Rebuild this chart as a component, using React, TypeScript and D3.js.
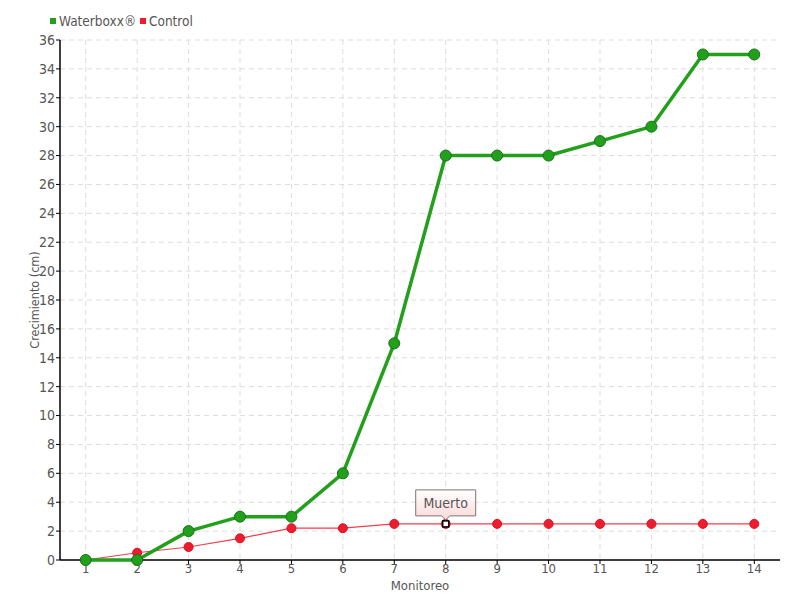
import React from "react";
import * as d3 from "d3";

const categories = ["1","2","3","4","5","6","7","8","9","10","11","12","13","14"];
const waterboxx = [0, 0, 2, 3, 3, 6, 15, 28, 28, 28, 29, 30, 35, 35];
const control = [0, 0.5, 0.9, 1.5, 2.2, 2.2, 2.5, 2.5, 2.5, 2.5, 2.5, 2.5, 2.5, 2.5];
const yTicks = d3.range(0, 37, 2);
const seriesNames = ["Waterboxx®", "Control"];
const annotationIndex = 7;
const annotationText = "Muerto";

const W = 800, H = 600;
const left = 60, right = 780, top = 40, bottom = 560;
const FONT = "'DejaVu Sans Condensed', 'DejaVu Sans', sans-serif";
const GREEN = "#22a01c";
const RED = "#ee1c2e";
const TXT = "#555";

export default function App() {
  const x = d3.scalePoint<string>().domain(categories).range([left, right]).padding(0.5);
  const y = d3.scaleLinear().domain([0, 36]).range([bottom, top]);
  const line = d3.line<number>().x((_, i) => x(categories[i])!).y(d => y(d));
  const ax = x(categories[annotationIndex])!;
  const ay = y(control[annotationIndex]);
  return (
    <svg width={W} height={H} style={{ position: "absolute", left: 0, top: 0 }} fontFamily={FONT} fontStretch="condensed">
      <defs>
        <linearGradient id="tip" x1="0" y1="0" x2="0" y2="1">
          <stop offset="0" stopColor="#ffffff" />
          <stop offset="1" stopColor="#fcd8d8" />
        </linearGradient>
      </defs>
      <rect width={W} height={H} fill="#fff" />
      {yTicks.map(t => (
        <line key={"gy" + t} x1={left} x2={right} y1={y(t)} y2={y(t)} stroke="#ddd" strokeDasharray="5,4" />
      ))}
      {categories.map(c => (
        <line key={"gx" + c} x1={x(c)} x2={x(c)} y1={top} y2={bottom} stroke="#ddd" strokeDasharray="5,4" />
      ))}
      <line x1={left} x2={left} y1={top} y2={bottom} stroke="#000" strokeWidth={1.5} />
      <line x1={left} x2={right} y1={bottom} y2={bottom} stroke="#000" strokeWidth={1.5} />
      {yTicks.map(t => (
        <g key={"ty" + t}>
          <line x1={left - 4} x2={left} y1={y(t)} y2={y(t)} stroke="#000" />
          <text x={left - 5} y={y(t)} dy="0.35em" textAnchor="end" fontSize={14} fill={TXT}>{t}</text>
        </g>
      ))}
      {categories.map(c => (
        <g key={"tx" + c}>
          <line x1={x(c)} x2={x(c)} y1={bottom} y2={bottom + 4} stroke="#000" />
          <text x={x(c)} y={bottom + 13} textAnchor="middle" fontSize={13} fill={TXT}>{c}</text>
        </g>
      ))}
      <text x={(left + right) / 2} y={590} textAnchor="middle" fontSize={13} fill={TXT}>Monitoreo</text>
      <text transform={`translate(39,${(top + bottom) / 2}) rotate(-90)`} textAnchor="middle" fontSize={12.5} fill={TXT}>Crecimiento (cm)</text>

      <path d={line(control)!} fill="none" stroke={RED} strokeWidth={1.2} opacity={0.85} />
      {control.map((v, i) => (
        <circle key={"c" + i} cx={x(categories[i])} cy={y(v)} r={4.5} fill={RED} stroke="#d81020" strokeWidth={1} />
      ))}
      <path d={line(waterboxx)!} fill="none" stroke={GREEN} strokeWidth={3.5} strokeLinejoin="round" />
      {waterboxx.map((v, i) => (
        <circle key={"w" + i} cx={x(categories[i])} cy={y(v)} r={5.5} fill={GREEN} stroke="#15731a" strokeWidth={1} />
      ))}

      <rect x={ax - 3} y={ay - 3} width={6} height={6} fill="#fff" stroke="#000" strokeWidth={1.5} />
      <g>
        <path d={`M${ax - 30},${ay - 34} H${ax + 30} V${ay - 8} H${ax + 4} L${ax},${ay - 4} L${ax - 4},${ay - 8} H${ax - 30} Z`}
          fill="url(#tip)" stroke="#777" strokeWidth={1} />
        <text x={ax} y={ay - 16} textAnchor="middle" fontSize={14} fill={TXT}>{annotationText}</text>
      </g>

      <rect x={50} y={18} width={6} height={6} fill={GREEN} />
      <text x={59} y={26} fontSize={13.5} fill={TXT}>{seriesNames[0]}</text>
      <rect x={140} y={18} width={6} height={6} fill={RED} />
      <text x={149} y={26} fontSize={13.5} fill={TXT}>{seriesNames[1]}</text>
    </svg>
  );
}
